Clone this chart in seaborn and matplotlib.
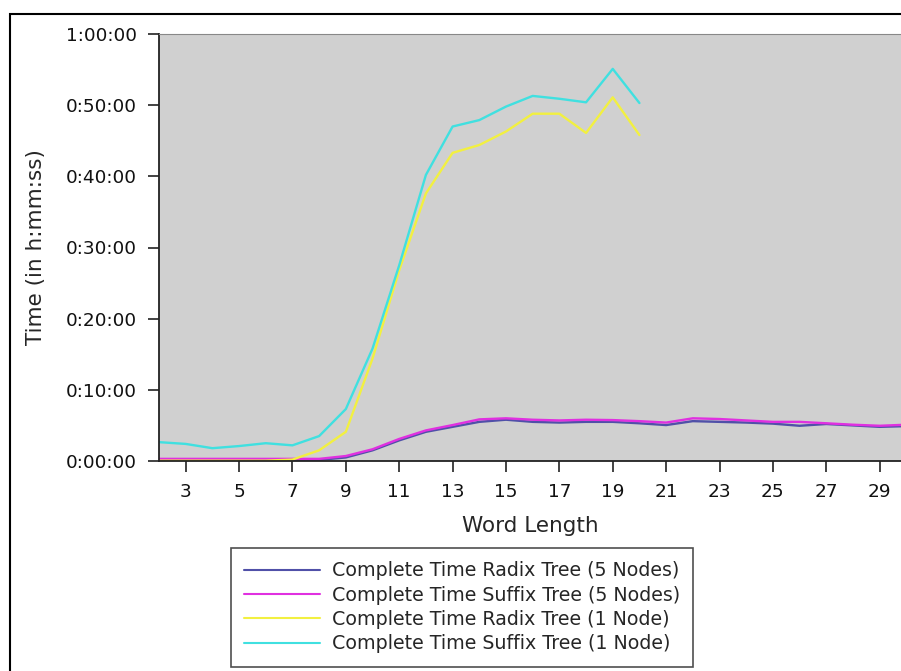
"""
plot.py - Complete build time of radix vs suffix trees by word length.
"""

import numpy as np
import pandas as pd
import matplotlib
matplotlib.use("Agg")
import matplotlib.pyplot as plt
from matplotlib.ticker import FuncFormatter, MultipleLocator
from matplotlib.patches import Rectangle
import seaborn as sns

# ── data (minutes) ────────────────────────────────────────────────────────────
word_len_5 = list(range(2, 31))
word_len_1 = list(range(2, 21))

radix_5 = [0.05, 0.05, 0.05, 0.05, 0.05, 0.05, 0.15, 0.5, 1.5, 2.9, 4.1, 4.8, 5.5, 5.8,
           5.5, 5.4, 5.5, 5.5, 5.3, 5.05, 5.6, 5.5, 5.4, 5.25, 4.95, 5.2, 5.0, 4.8, 4.9]
suffix_5 = [0.3, 0.3, 0.3, 0.3, 0.3, 0.3, 0.3, 0.7, 1.65, 3.1, 4.3, 5.05, 5.85, 6.0,
            5.8, 5.7, 5.8, 5.75, 5.6, 5.4, 6.0, 5.9, 5.7, 5.5, 5.5, 5.3, 5.1, 4.95, 5.1]
radix_1 = [0.05, 0.05, 0.05, 0.05, 0.05, 0.2, 1.5, 4.1, 14.4, 26.8, 37.6, 43.3, 44.4,
           46.3, 48.8, 48.8, 46.1, 51.1, 45.8]
suffix_1 = [2.65, 2.4, 1.8, 2.1, 2.5, 2.2, 3.5, 7.3, 15.8, 27.5, 40.2, 47.0, 47.9,
            49.8, 51.3, 50.9, 50.4, 55.1, 50.3]

labels = ["Complete Time Radix Tree (5 Nodes)",
          "Complete Time Suffix Tree (5 Nodes)",
          "Complete Time Radix Tree (1 Node)",
          "Complete Time Suffix Tree (1 Node)"]
colors = ["#5050a8", "#e030e0", "#f2f040", "#40e0e0"]

df = pd.concat([
    pd.DataFrame({"Word Length": word_len_5, "Minutes": radix_5, "Series": labels[0]}),
    pd.DataFrame({"Word Length": word_len_5, "Minutes": suffix_5, "Series": labels[1]}),
    pd.DataFrame({"Word Length": word_len_1, "Minutes": radix_1, "Series": labels[2]}),
    pd.DataFrame({"Word Length": word_len_1, "Minutes": suffix_1, "Series": labels[3]}),
], ignore_index=True)

# ── plot ──────────────────────────────────────────────────────────────────────
sns.set_style("ticks")
plt.rcParams["font.family"] = ["DejaVu Sans"]

fig = plt.figure(figsize=(9.01, 6.71), dpi=100)
ax = fig.add_axes([159 / 901, 1 - 461 / 671, 1 - 159 / 901, (461 - 34) / 671])
ax.set_facecolor("#d0d0d0")

sns.lineplot(data=df, x="Word Length", y="Minutes", hue="Series",
             hue_order=labels, palette=colors, linewidth=1.7, ax=ax)

ax.set_xlim(2, 29.8)
ax.set_ylim(0, 60)
ax.xaxis.set_major_locator(MultipleLocator(2, offset=1))
ax.yaxis.set_major_locator(MultipleLocator(10))
ax.yaxis.set_major_formatter(FuncFormatter(
    lambda v, _: f"{int(v // 60)}:{int(v % 60):02d}:00"))
ax.tick_params(axis="both", direction="out", length=8, width=1.2, pad=8,
               labelsize=13.3, color="#222222", labelcolor="#111111")
for side in ["left", "bottom"]:
    ax.spines[side].set_color("#222222")
    ax.spines[side].set_linewidth(1.3)
ax.spines["top"].set_color("#888888")
ax.spines["right"].set_visible(False)

ax.set_xlabel("Word Length", fontsize=15.5, labelpad=11)
ax.set_ylabel("Time (in h:mm:ss)", fontsize=15.5, labelpad=14)

leg = ax.legend(loc="center", bbox_to_anchor=(0.513, 0.095),
                bbox_transform=fig.transFigure, fontsize=13.7,
                frameon=True, fancybox=False, handlelength=4.0,
                handletextpad=0.6, borderpad=0.7, labelspacing=0.28)
leg.get_frame().set_edgecolor("#222222")
leg.get_frame().set_linewidth(1.2)
for line in leg.get_lines():
    line.set_linewidth(1.5)

# outer frame (top/left visible, rest off-image)
fig.patches.append(Rectangle((10 / 901, -0.1), 1.2, 1 - 14 / 671 + 0.1,
                             transform=fig.transFigure, fill=False,
                             edgecolor="black", linewidth=1.5))

fig.savefig("out.png", dpi=100)
plt.close(fig)
